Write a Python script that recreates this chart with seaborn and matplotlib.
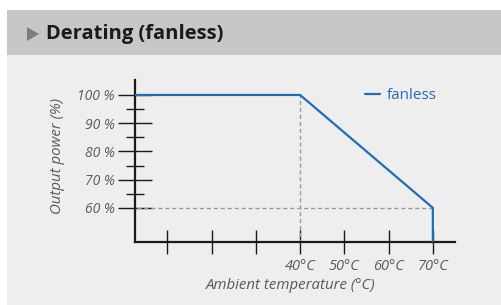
import matplotlib
matplotlib.use("Agg")
import matplotlib.pyplot as plt
import numpy as np
import pandas as pd
import seaborn as sns
from matplotlib.patches import Rectangle, Polygon

# data
temps = [0, 40, 70, 70]
power = [100, 100, 60, 0]
series = "fanless"
x_ticks = [10, 20, 30, 40, 50, 60, 70]
x_labels = ["", "", "", "40°C", "50°C", "60°C", "70°C"]
y_ticks = [60, 70, 80, 90, 100]
y_labels = ["60 %", "70 %", "80 %", "90 %", "100 %"]
y_minor = [65, 75, 85, 95]
knee_temp, knee_power = 40, 100
end_temp, end_power = 70, 60

sns.set_style("white")
plt.rcParams['font.family'] = ['Open Sans', 'DejaVu Sans']

blue = "#1f6db5"
gray_txt = "#5a5a5a"

fig = plt.figure(figsize=(5.01, 3.05), dpi=100)
W, H = 501, 305
fig.patch.set_facecolor("white")
# panel background + header band
fig.patches.append(Rectangle((7 / W, 0), 1, 295 / H, transform=fig.transFigure,
                             facecolor="#eeeeee", edgecolor="none", zorder=-2))
fig.patches.append(Rectangle((7 / W, (H - 55) / H), 1, 45 / H, transform=fig.transFigure,
                             facecolor="#c6c7c8", edgecolor="none", zorder=-2))
fig.patches.append(Polygon([[27 / W, (H - 27) / H], [27 / W, (H - 41) / H], [39 / W, (H - 34) / H]],
                           closed=True, transform=fig.transFigure, facecolor="#7d7d7d",
                           edgecolor="none", zorder=-1))
fig.text(46 / W, (H - 34) / H, "Derating (fanless)", fontsize=14.5, fontweight="bold",
         color="#1a1a1a", va="center", ha="left")

ax = fig.add_axes([135 / W, (H - 242) / H, 320 / W, 162 / H])
ax.set_zorder(5)
ax.set_facecolor("none")

df = pd.DataFrame({"temp": temps, "power": power})
sns.lineplot(data=df, x="temp", y="power", sort=False, estimator=None, color=blue,
             linewidth=1.6, ax=ax, zorder=3, label=series)

ax.plot([knee_temp, knee_temp], [0, knee_power], ls=(0, (3, 2)), color="#999999", lw=1, zorder=2)
ax.plot([0, end_temp], [end_power, end_power], ls=(0, (3, 2)), color="#999999", lw=1, zorder=2)

ax.set_xlim(2.7, 75)
ax.set_ylim(47.9, 105.3)

for s in ["top", "right"]:
    ax.spines[s].set_visible(False)
for s in ["left", "bottom"]:
    ax.spines[s].set_color("#1a1a1a")
    ax.spines[s].set_linewidth(1.6)

ax.set_xticks(x_ticks)
ax.set_xticklabels(x_labels, fontsize=10.5, style="italic", color=gray_txt)
ax.set_yticks(y_ticks)
ax.set_yticklabels(y_labels, fontsize=10, style="italic", color=gray_txt)
ax.set_yticks(y_minor, minor=True)
ax.tick_params(axis="x", bottom=True, direction="inout", length=17, width=1, color="#1a1a1a", pad=4)
ax.tick_params(axis="y", which="major", left=True, direction="inout", length=25, width=1,
               color="#1a1a1a", pad=2)
ax.tick_params(axis="y", which="minor", left=True, direction="inout", length=13, width=1,
               color="#1a1a1a")

ax.set_xlabel("Ambient temperature (°C)", fontsize=10.8, style="italic", color=gray_txt)
ax.set_ylabel("Output power (%)", fontsize=10.8, style="italic", color=gray_txt)
ax.yaxis.set_label_coords(-0.22, 0.53)
ax.xaxis.set_label_coords(0.4875, -0.225)

leg = ax.legend(loc="center left", bbox_to_anchor=(0.719, 0.905), frameon=False, fontsize=11,
                handlelength=1.0, handletextpad=0.4, borderpad=0, borderaxespad=0)
for t in leg.get_texts():
    t.set_color(blue)

fig.savefig("out.png", dpi=100, facecolor=fig.get_facecolor())
